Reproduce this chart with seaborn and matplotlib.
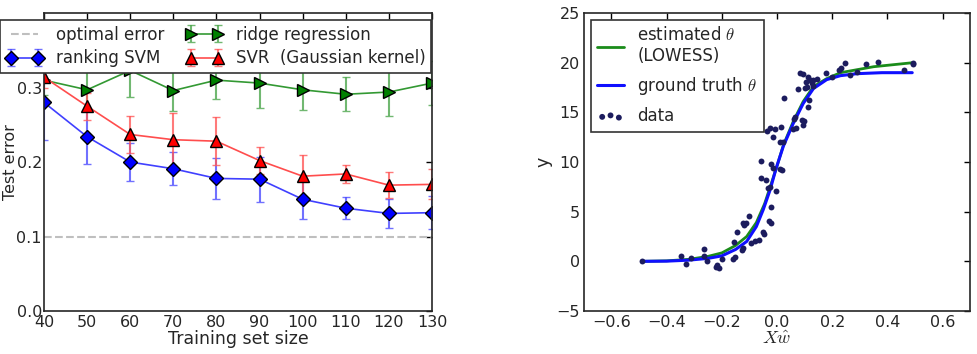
import numpy as np
import matplotlib
matplotlib.use("Agg")
import matplotlib.pyplot as plt
import seaborn as sns

# left panel: test error vs training set size
sizes = [40, 50, 60, 70, 80, 90, 100, 110, 120, 130]
svm_err = [0.280, 0.234, 0.200, 0.191, 0.178, 0.177, 0.150, 0.138, 0.131, 0.132]
svm_std = [0.050, 0.036, 0.025, 0.022, 0.027, 0.030, 0.026, 0.015, 0.020, 0.022]
ridge_err = [0.310, 0.297, 0.323, 0.296, 0.310, 0.306, 0.297, 0.291, 0.294, 0.306]
ridge_std = [0.020, 0.026, 0.035, 0.028, 0.026, 0.034, 0.027, 0.023, 0.032, 0.030]
svr_err = [0.314, 0.275, 0.237, 0.230, 0.228, 0.202, 0.181, 0.184, 0.169, 0.170]
svr_std = [0.015, 0.018, 0.025, 0.036, 0.032, 0.018, 0.028, 0.012, 0.017, 0.020]
optimal = 0.1

# right panel: single index model fit
data_x = [-0.490, -0.347, -0.330, -0.310, -0.265, -0.266, -0.255, -0.221, -0.209, -0.218,
          -0.200, -0.160, -0.152, -0.156, -0.146, -0.128, -0.123, -0.125, -0.118, -0.113,
          -0.100, -0.095, -0.080, -0.067, -0.051, -0.047, -0.030, -0.023, -0.022, -0.058,
          -0.039, -0.034, -0.024, -0.004, -0.059, -0.023, -0.014, 0.011, 0.017, -0.036,
          -0.027, -0.007, 0.015, -0.013, 0.009, 0.022, 0.026, 0.060, 0.068, 0.058,
          0.066, 0.077, 0.090, 0.098, 0.094, 0.114, 0.116, 0.083, 0.093, 0.105,
          0.101, 0.114, 0.120, 0.126, 0.132, 0.144, 0.108, 0.130, 0.176, 0.200,
          0.225, 0.232, 0.245, 0.265, 0.289, 0.323, 0.365, 0.461, 0.492, 0.492]
data_y = [0.00, 0.50, -0.25, 0.36, 1.27, 0.55, 0.02, -0.55, -0.64, -0.35,
          0.19, 0.19, 0.48, 1.95, 2.97, 1.15, 1.35, 3.90, 3.65, 3.85,
          4.54, 1.85, 2.05, 2.15, 3.00, 2.80, 4.05, 3.85, 5.45, 8.35,
          8.23, 7.35, 7.45, 7.13, 10.06, 9.85, 9.40, 9.30, 9.16, 13.10,
          13.40, 13.30, 13.55, 12.55, 12.00, 12.00, 16.45, 14.30, 13.40, 13.35,
          14.50, 17.34, 14.20, 14.10, 13.75, 15.50, 16.20, 18.94, 18.87, 18.10,
          17.45, 18.60, 18.30, 17.94, 18.27, 18.34, 17.60, 17.67, 18.95, 18.60,
          19.30, 19.50, 20.00, 18.77, 19.10, 19.88, 20.10, 19.30, 20.00, 19.90]
truth_x = [-0.49, -0.40, -0.32, -0.25, -0.20, -0.15, -0.11, -0.075, -0.05, -0.025,
           -0.004, 0.023, 0.059, 0.095, 0.132, 0.18, 0.23, 0.29, 0.38, 0.49]
truth_y = [0.0, 0.02, 0.12, 0.30, 0.55, 1.2, 2.0, 3.5, 5.2, 7.2,
           9.3, 11.6, 13.9, 15.9, 17.4, 18.3, 18.7, 18.9, 19.0, 19.0]
lowess_x = [-0.49, -0.40, -0.32, -0.25, -0.20, -0.15, -0.11, -0.075, -0.045, -0.02,
            0.0, 0.023, 0.059, 0.095, 0.132, 0.18, 0.23, 0.29, 0.35, 0.42, 0.49]
lowess_y = [0.0, 0.05, 0.2, 0.5, 0.85, 1.6, 2.5, 3.9, 5.8, 7.9,
            9.6, 11.7, 14.1, 16.1, 17.6, 18.4, 19.0, 19.3, 19.6, 19.8, 20.0]

sns.set_style("white", {"xtick.direction": "in", "ytick.direction": "in",
                        "axes.edgecolor": "black"})
plt.rcParams["font.family"] = ["DejaVu Sans"]
plt.rcParams["mathtext.fontset"] = "cm"
plt.rcParams["xtick.top"] = True
plt.rcParams["ytick.right"] = True

fig = plt.figure(figsize=(9.78, 3.54), dpi=100)
ax1 = fig.add_axes([0.045, 0.1215, 0.3967, 0.8415])
ax2 = fig.add_axes([0.597, 0.1215, 0.395, 0.8415])

# --- left
sns.lineplot(x=[40, 130], y=[optimal, optimal], ax=ax1, color="0.75", lw=1.5,
             linestyle="--", label="optimal error")
ax1.errorbar(sizes, svm_err, yerr=svm_std, color=(0.25, 0.25, 1.0), marker="D", ms=7,
             mfc="b", mec="k", ecolor=(0.3, 0.3, 1.0, 0.8), capsize=3, lw=1.2,
             elinewidth=1.5, label="ranking SVM")
ax1.errorbar(sizes, ridge_err, yerr=ridge_std, color=(0.2, 0.6, 0.2), marker=">", ms=8,
             mfc="g", mec="k", ecolor=(0.3, 0.65, 0.3, 0.8), capsize=3, lw=1.2,
             elinewidth=1.5, label="ridge regression")
ax1.errorbar(sizes, svr_err, yerr=svr_std, color=(1.0, 0.3, 0.3), marker="^", ms=8,
             mfc="r", mec="k", ecolor=(1.0, 0.35, 0.35, 0.8), capsize=3, lw=1.2,
             elinewidth=1.5, label="SVR  (Gaussian kernel)")
ax1.set_xlim(40, 130)
ax1.set_ylim(0, 0.4)
ax1.set_xticks(sizes)
ax1.set_yticks([0.0, 0.1, 0.2, 0.3])
ax1.set_xlabel("Training set size", fontsize=12.5, labelpad=0)
ax1.set_ylabel("Test error", fontsize=11.5)
ax1.yaxis.set_label_coords(-0.066, 0.5)
h, l = ax1.get_legend_handles_labels()
leg1 = ax1.legend(h, l, ncol=2, loc="upper left", bbox_to_anchor=(0.0, 0.944),
                  bbox_transform=fig.transFigure, fontsize=12, fancybox=False,
                  framealpha=1, edgecolor="0.2", borderaxespad=0, handlelength=2.2,
                  numpoints=2, columnspacing=1.3, borderpad=0.35, labelspacing=0.35)
leg1.get_frame().set_linewidth(1.2)

# --- right
sns.lineplot(x=lowess_x, y=lowess_y, ax=ax2, color="#1a8c1a", lw=2,
             label="estimated $\\theta$\n(LOWESS)", sort=False)
sns.lineplot(x=truth_x, y=truth_y, ax=ax2, color="#1010ff", lw=2.2,
             label="ground truth $\\theta$", sort=False)
sns.scatterplot(x=data_x, y=data_y, ax=ax2, color="#1c1c5e", s=18, linewidth=0,
                label="data", zorder=3)
ax2.set_xlim(-0.7, 0.7)
ax2.set_ylim(-5, 25)
ax2.set_xticks([-0.6, -0.4, -0.2, 0.0, 0.2, 0.4, 0.6])
ax2.set_yticks([-5, 0, 5, 10, 15, 20, 25])
ax2.set_xlabel("$X\\hat{w}$", fontsize=13, labelpad=0)
ax2.set_ylabel("y", fontsize=12.5, labelpad=3)
leg2 = ax2.legend(loc="upper left", fontsize=12, fancybox=False, framealpha=1,
                  edgecolor="0.2", handlelength=1.6, scatterpoints=3,
                  borderaxespad=0.4, borderpad=0.4, labelspacing=0.6)
leg2.get_frame().set_linewidth(1.2)

for ax in (ax1, ax2):
    ax.tick_params(labelsize=11.5, length=4, width=1, color="k", pad=3)
    for s in ax.spines.values():
        s.set_linewidth(1.2)
        s.set_color("0.15")
ax1.tick_params(axis="y", pad=1.5)

fig.savefig("out.png", dpi=100)
